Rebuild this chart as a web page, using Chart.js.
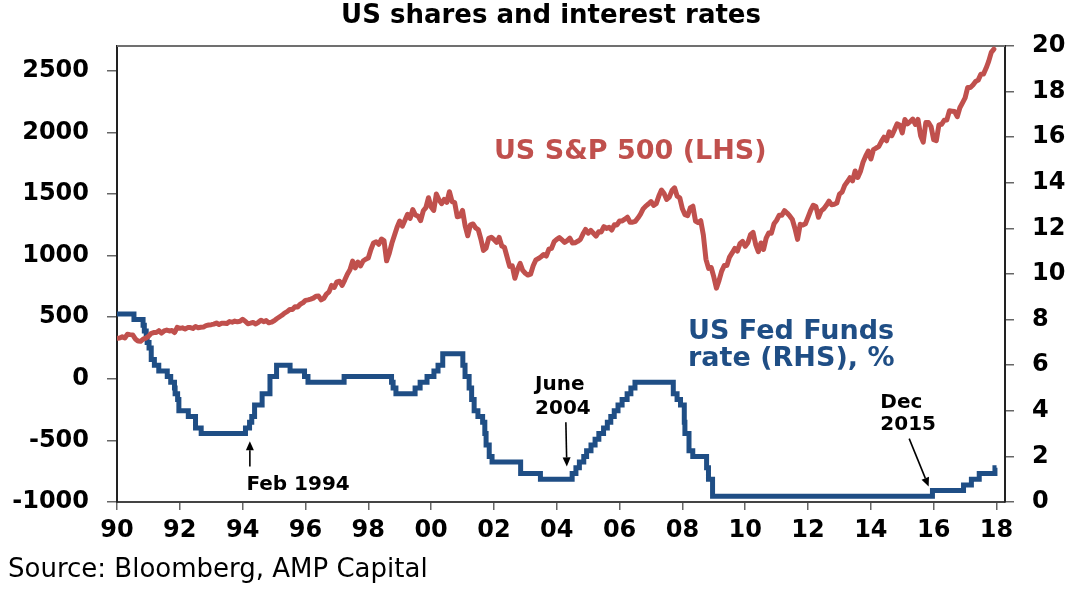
<!DOCTYPE html>
<html>
<head>
<meta charset="utf-8">
<script src="https://cdn.jsdelivr.net/npm/chart.js@4.4.1/dist/chart.umd.min.js"></script>
<style>
  html, body { margin: 0; padding: 0; background: #fff; }
  #wrap { width: 1072px; height: 606px; }
</style>
</head>
<body>
<div id="wrap"><canvas id="chart" width="1072" height="606"></canvas></div>
<script>
// S&P 500, monthly, Jan 1990 .. Dec 2017
const spxFirstYear = 1990;
const spxClose = [
  329, 331, 340, 331, 361, 358, 356, 323, 306, 304, 322, 330,
  344, 367, 375, 375, 390, 371, 388, 395, 388, 392, 375, 417,
  409, 413, 404, 415, 415, 408, 424, 414, 418, 419, 431, 436,
  439, 443, 452, 440, 450, 451, 448, 464, 459, 468, 462, 466,
  482, 467, 446, 451, 457, 444, 458, 475, 463, 472, 454, 459,
  470, 487, 501, 515, 533, 545, 562, 562, 584, 582, 605, 616,
  636, 640, 646, 654, 669, 671, 640, 652, 687, 705, 757, 741,
  786, 791, 757, 801, 848, 885, 954, 899, 947, 915, 955, 970,
  980, 1049, 1102, 1112, 1091, 1134, 1121, 957, 1017, 1099, 1164, 1229,
  1280, 1238, 1286, 1335, 1302, 1373, 1329, 1320, 1283, 1363, 1389, 1469,
  1394, 1366, 1499, 1452, 1421, 1455, 1431, 1518, 1437, 1429, 1315, 1320,
  1366, 1240, 1160, 1249, 1256, 1224, 1211, 1134, 1041, 1060, 1139, 1148,
  1130, 1107, 1147, 1077, 1067, 990, 912, 916, 815, 886, 936, 880,
  856, 841, 848, 917, 964, 975, 990, 1008, 996, 1051, 1058, 1112,
  1131, 1145, 1126, 1107, 1121, 1141, 1102, 1104, 1115, 1130, 1174, 1212,
  1181, 1204, 1181, 1157, 1192, 1191, 1234, 1220, 1229, 1207, 1249, 1248,
  1280, 1281, 1295, 1311, 1270, 1270, 1277, 1304, 1336, 1378, 1401, 1418,
  1438, 1407, 1421, 1482, 1531, 1503, 1455, 1474, 1527, 1549, 1481, 1468,
  1379, 1331, 1323, 1386, 1400, 1280, 1267, 1283, 1166, 969, 896, 903,
  826, 735, 798, 873, 919, 919, 987, 1021, 1057, 1036, 1096, 1115,
  1074, 1104, 1169, 1187, 1089, 1031, 1102, 1049, 1141, 1183, 1181, 1258,
  1286, 1327, 1326, 1364, 1345, 1321, 1292, 1219, 1131, 1253, 1247, 1258,
  1312, 1366, 1408, 1398, 1310, 1362, 1379, 1407, 1441, 1412, 1416, 1426,
  1498, 1515, 1569, 1598, 1631, 1606, 1686, 1633, 1682, 1757, 1806, 1848,
  1783, 1859, 1872, 1884, 1924, 1960, 1931, 2003, 1972, 2018, 2068, 2059,
  1995, 2104, 2068, 2086, 2107, 2063, 2104, 1972, 1920, 2079, 2080, 2044,
  1940, 1932, 2060, 2065, 2097, 2099, 2174, 2171, 2168, 2126, 2199, 2239,
  2279, 2364, 2363, 2384, 2412, 2423, 2470, 2472, 2519, 2575, 2648, 2674
];

// Fed funds target: dates of change (decimal years) and new rate, %
const fedDates = [
  1990.00, 1990.54, 1990.83, 1990.87, 1990.93, 1990.96,
  1991.02, 1991.09, 1991.19, 1991.33, 1991.60, 1991.71, 1991.83, 1991.85, 1991.93, 1991.97,
  1992.27, 1992.50, 1992.68,
  1994.09, 1994.22, 1994.29, 1994.38, 1994.62, 1994.87,
  1995.08, 1995.51, 1995.97, 1996.08, 1997.23,
  1998.74, 1998.79, 1998.88, 1999.49, 1999.65, 1999.87,
  2000.09, 2000.22, 2000.37,
  2001.01, 2001.08, 2001.21, 2001.29, 2001.37, 2001.49, 2001.64, 2001.71, 2001.75, 2001.85, 2001.94,
  2002.85, 2003.48,
  2004.49, 2004.61, 2004.72, 2004.86, 2004.95,
  2005.09, 2005.22, 2005.34, 2005.49, 2005.61, 2005.72, 2005.83, 2005.95,
  2006.08, 2006.24, 2006.36, 2006.49,
  2007.71, 2007.83, 2007.94,
  2008.06, 2008.08, 2008.21, 2008.33, 2008.77, 2008.83, 2008.96,
  2015.96, 2016.95, 2017.20, 2017.45, 2017.95, 2018.00
];
const fedRates = [
  8.25, 8.0, 7.75, 7.5, 7.25, 7.0,
  6.75, 6.25, 6.0, 5.75, 5.5, 5.25, 5.0, 4.75, 4.5, 4.0,
  3.75, 3.25, 3.0,
  3.25, 3.5, 3.75, 4.25, 4.75, 5.5,
  6.0, 5.75, 5.5, 5.25, 5.5,
  5.25, 5.0, 4.75, 5.0, 5.25, 5.5,
  5.75, 6.0, 6.5,
  6.0, 5.5, 5.0, 4.5, 4.0, 3.75, 3.5, 3.0, 2.5, 2.0, 1.75,
  1.25, 1.0,
  1.25, 1.5, 1.75, 2.0, 2.25,
  2.5, 2.75, 3.0, 3.25, 3.5, 3.75, 4.0, 4.25,
  4.5, 4.75, 5.0, 5.25,
  4.75, 4.5, 4.25,
  3.5, 3.0, 2.25, 2.0, 1.5, 1.0, 0.25,
  0.5, 0.75, 1.0, 1.25, 1.5, 1.5
];

const xTickYears = [1990, 1992, 1994, 1996, 1998, 2000, 2002, 2004, 2006, 2008, 2010, 2012, 2014, 2016, 2018];
const xTickLabels = ['90', '92', '94', '96', '98', '00', '02', '04', '06', '08', '10', '12', '14', '16', '18'];
const leftTicks = [-1000, -500, 0, 500, 1000, 1500, 2000, 2500];
const rightTicks = [0, 2, 4, 6, 8, 10, 12, 14, 16, 18, 20];

const RED = '#c0504d';
const BLUE = '#1f4e85';
const FONT = "'DejaVu Sans', sans-serif";

Chart.defaults.font.family = FONT;

const spxPoints = spxClose.map((v, i) => ({ x: spxFirstYear + i / 12, y: v }));
const fedPoints = fedDates.map((d, i) => ({ x: d, y: fedRates[i] }));

function arrow(ctx, x1, y1, x2, y2) {
  const ang = Math.atan2(y2 - y1, x2 - x1);
  const hl = 9, hw = 4;
  const bx = x2 - hl * Math.cos(ang), by = y2 - hl * Math.sin(ang);
  ctx.beginPath();
  ctx.moveTo(x1, y1);
  ctx.lineTo(bx, by);
  ctx.stroke();
  ctx.beginPath();
  ctx.moveTo(x2, y2);
  ctx.lineTo(bx + hw * Math.sin(ang), by - hw * Math.cos(ang));
  ctx.lineTo(bx - hw * Math.sin(ang), by + hw * Math.cos(ang));
  ctx.closePath();
  ctx.fill();
}

const decorations = {
  id: 'decorations',
  beforeDatasetsDraw(chart) {
    const { ctx, chartArea: a } = chart;
    ctx.save();
    ctx.strokeStyle = '#707070';
    ctx.lineWidth = 2;
    ctx.beginPath();
    ctx.moveTo(a.left, a.top);
    ctx.lineTo(a.right, a.top);
    ctx.stroke();
    ctx.restore();
  },
  afterDraw(chart) {
    const { ctx, scales } = chart;
    const px = v => scales.x.getPixelForValue(v);
    const pl = v => scales.y.getPixelForValue(v);
    const pr = v => scales.y1.getPixelForValue(v);
    ctx.save();
    ctx.textBaseline = 'alphabetic';

    ctx.fillStyle = '#000';
    ctx.textAlign = 'center';
    ctx.font = 'bold 26px ' + FONT;
    ctx.fillText('US shares and interest rates', 551, 23);

    ctx.textAlign = 'left';
    ctx.font = '26px ' + FONT;
    ctx.fillText('Source: Bloomberg, AMP Capital', 8, 577);

    ctx.fillStyle = RED;
    ctx.font = 'bold 27px ' + FONT;
    ctx.fillText('US S&P 500 (LHS)', px(2002.0), pl(1785));

    ctx.fillStyle = BLUE;
    ctx.font = 'bold 27px ' + FONT;
    ctx.fillText('US Fed Funds', px(2008.18), pr(7.17));
    ctx.fillText('rate (RHS), %', px(2008.18), pr(5.96));

    ctx.fillStyle = '#000';
    ctx.strokeStyle = '#000';
    ctx.lineWidth = 1.6;
    ctx.font = 'bold 20px ' + FONT;
    ctx.fillText('Feb 1994', px(1994.12), pr(0.54));
    arrow(ctx, px(1994.23), pr(1.56), px(1994.23), pr(2.66));

    ctx.fillText('June', px(2003.31), pr(4.93));
    ctx.fillText('2004', px(2003.31), pr(3.87));
    arrow(ctx, px(2004.29), pr(3.5), px(2004.32), pr(1.56));

    ctx.fillText('Dec', px(2014.30), pr(4.14));
    ctx.fillText('2015', px(2014.30), pr(3.14));
    arrow(ctx, px(2015.22), pr(2.78), px(2015.84), pr(0.68));
    ctx.restore();
  }
};

const tickFont = { family: FONT, size: 24, weight: 'bold' };

new Chart(document.getElementById('chart'), {
  type: 'line',
  data: {
    datasets: [
      {
        label: 'US S&P 500 (LHS)',
        data: spxPoints,
        yAxisID: 'y',
        borderColor: RED,
        borderWidth: 5,
        pointRadius: 0,
        borderJoinStyle: 'round',
        borderCapStyle: 'round',
        tension: 0
      },
      {
        label: 'US Fed Funds rate (RHS), %',
        data: fedPoints,
        yAxisID: 'y1',
        borderColor: BLUE,
        borderWidth: 5,
        pointRadius: 0,
        stepped: true,
        borderJoinStyle: 'miter',
        borderCapStyle: 'butt'
      }
    ]
  },
  options: {
    responsive: false,
    animation: false,
    events: [],
    layout: { padding: { top: 46, left: 0, right: 0, bottom: 0 } },
    plugins: {
      legend: { display: false },
      title: { display: false },
      tooltip: { enabled: false }
    },
    scales: {
      x: {
        type: 'linear',
        min: 1990,
        max: 2018.27,
        afterBuildTicks: s => { s.ticks = xTickYears.map(v => ({ value: v })); },
        afterFit: s => { s.height = 104; },
        ticks: {
          autoSkip: false,
          maxRotation: 0,
          color: '#000',
          font: tickFont,
          padding: 6,
          callback: (v, i) => xTickLabels[i]
        },
        grid: { drawOnChartArea: false, tickLength: 8, color: '#666', lineWidth: 1.5 },
        border: { color: '#444', width: 2 }
      },
      y: {
        position: 'left',
        min: -1000,
        max: 2700,
        afterBuildTicks: s => { s.ticks = leftTicks.map(v => ({ value: v })); },
        afterFit: s => { s.width = 117; },
        ticks: { color: '#000', font: tickFont, padding: 18, callback: v => String(v) },
        grid: { drawOnChartArea: false, tickLength: 10, color: '#666', lineWidth: 1.5 },
        border: { color: '#222', width: 2 }
      },
      y1: {
        position: 'right',
        min: 0,
        max: 20,
        afterBuildTicks: s => { s.ticks = rightTicks.map(v => ({ value: v })); },
        afterFit: s => { s.width = 67; },
        ticks: { color: '#000', font: tickFont, padding: 18, callback: v => String(v) },
        grid: { drawOnChartArea: false, tickLength: 9, color: '#666', lineWidth: 1.5 },
        border: { color: '#222', width: 2 }
      }
    }
  },
  plugins: [decorations]
});
</script>
</body>
</html>
